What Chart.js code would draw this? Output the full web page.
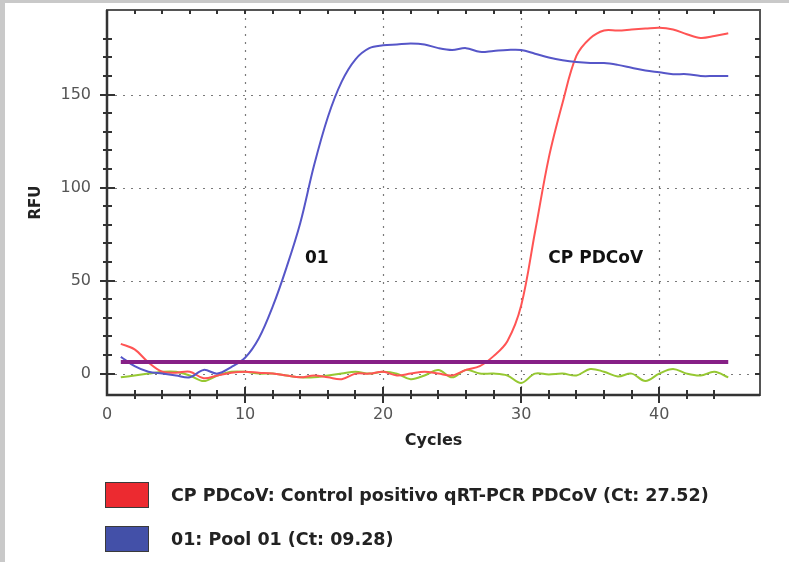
<!DOCTYPE html>
<html>
<head>
<meta charset="utf-8">
<script src="https://cdn.jsdelivr.net/npm/chart.js@4.4.1/dist/chart.umd.min.js"></script>
<style>
  html, body { margin: 0; padding: 0; background: #fff; }
  body { width: 789px; height: 562px; position: relative; overflow: hidden; }
  .edge-top { position: absolute; left: 0; top: 0; width: 789px; height: 3px; background: #c9c9c9; }
  .edge-left { position: absolute; left: 0; top: 0; width: 5px; height: 562px; background: #c9c9c9; }
  #pcrChart { position: absolute; left: 0; top: 0; }
  .legend { position: absolute; left: 105px; top: 481px; font: bold 17.5px "DejaVu Sans", sans-serif; color: #222; }
  .legend .row { display: flex; align-items: center; height: 27px; margin-bottom: 17px; }
  .legend .box { width: 42px; height: 24px; border: 1.5px solid #3a3a3a; margin-right: 22px; }
</style>
</head>
<body>
<div class="edge-top"></div>
<div class="edge-left"></div>
<canvas id="pcrChart" width="789" height="562"></canvas>
<div class="legend" id="legend"></div>
<script>
// amplification curves, RFU per cycle
const cycles = [1, 2, 3, 4, 5, 6, 7, 8, 9, 10, 11, 12, 13, 14, 15, 16, 17, 18, 19, 20,
  21, 22, 23, 24, 25, 26, 27, 28, 29, 30, 31, 32, 33, 34, 35, 36, 37, 38, 39, 40,
  41, 42, 43, 44, 45];
const cpValues = [16, 13, 6, 1, 0.5, 1, -2.5, -1, 0.5, 1, 0.5, 0, -1, -2, -1, -2, -3, 0, 0, 1,
  -1, 0, 1, 0, -1, 2, 4, 9.4, 17.4, 36.6, 76, 116, 145.6, 170.8, 180.3, 184.5, 184.5, 185, 185.5, 186,
  185, 182.5, 180.5, 181.5, 183];
const poolValues = [9, 4, 1, 0, -1, -2, 2, 0, 3.5, 8.5, 19, 36, 57, 81, 112, 138, 157, 169, 175, 176.5,
  177, 177.5, 177, 175, 174, 175, 173, 173.5, 174, 174, 172, 170, 168.5, 167.5, 167, 167, 166, 164.5, 163, 162,
  161, 161, 160, 160, 160];
const negValues = [-2, -1, 0, 1, 1, -1, -4, -1, 1, 1, 0, 0, -1, -2, -2, -1, 0, 1, 0, 1,
  0, -3, -1, 2, -2, 2, 0, 0, -1, -5, 0, -0.5, 0, -1, 2.5, 1, -1.5, 0, -4, 0,
  2.5, 0, -1, 1, -2];
const threshold = 6.3;
const thresholdCycles = [1, 45];

const legendLabels = ['CP PDCoV: Control positivo qRT-PCR PDCoV (Ct: 27.52)', '01: Pool 01 (Ct: 09.28)'];
const legendColors = ['#ec2a30', '#4350a8'];

const curveLabels = ['01', 'CP PDCoV'];
const curveLabelX = [15.2, 35.4];
const curveLabelY = [62, 62];

const FONT = '"DejaVu Sans", sans-serif';
const xMajor = 10, xMinor = 2, yMajor = 50, yMinor = 10;

const toPoints = vals => cycles.map((c, i) => ({ x: c, y: vals[i] }));

// html legend under the plot
const legendEl = document.getElementById('legend');
legendLabels.forEach((txt, i) => {
  const row = document.createElement('div');
  row.className = 'row';
  const box = document.createElement('div');
  box.className = 'box';
  box.style.background = legendColors[i];
  const span = document.createElement('span');
  span.textContent = txt;
  row.appendChild(box);
  row.appendChild(span);
  legendEl.appendChild(row);
});

const isMult = (v, step) => Math.abs(v / step - Math.round(v / step)) < 1e-6;

const gridPlugin = {
  id: 'pcrFrame',
  beforeDatasetsDraw(chart) {
    const { ctx, chartArea: a, scales: { x, y } } = chart;
    ctx.save();
    ctx.strokeStyle = '#7a7a7a';
    ctx.lineWidth = 1.2;
    ctx.setLineDash([2, 6]);
    x.ticks.forEach(t => {
      if (t.value > 0 && isMult(t.value, xMajor)) {
        const px = Math.round(x.getPixelForValue(t.value)) + 0.5;
        ctx.beginPath(); ctx.moveTo(px, a.top); ctx.lineTo(px, a.bottom); ctx.stroke();
      }
    });
    y.ticks.forEach(t => {
      if (isMult(t.value, yMajor)) {
        const py = Math.round(y.getPixelForValue(t.value)) + 0.5;
        ctx.beginPath(); ctx.moveTo(a.left, py); ctx.lineTo(a.right, py); ctx.stroke();
      }
    });
    ctx.restore();
  },
  afterDatasetsDraw(chart) {
    const { ctx, chartArea: a, scales: { x, y } } = chart;
    ctx.save();
    // frame
    ctx.strokeStyle = '#555';
    ctx.lineWidth = 2;
    ctx.strokeRect(a.left, a.top, a.right - a.left, a.bottom - a.top);
    ctx.strokeStyle = '#333';
    ctx.lineWidth = 2.5;
    ctx.beginPath();
    ctx.moveTo(a.left, a.top); ctx.lineTo(a.left, a.bottom); ctx.lineTo(a.right, a.bottom);
    ctx.stroke();
    // tick marks
    ctx.lineWidth = 2;
    x.ticks.forEach(t => {
      if (!isMult(t.value, xMinor) || t.value <= 0) return;
      const px = Math.round(x.getPixelForValue(t.value));
      const major = isMult(t.value, xMajor);
      ctx.beginPath();
      ctx.moveTo(px, a.bottom - (major ? 8 : 5));
      ctx.lineTo(px, a.bottom + (major ? 8 : 4));
      ctx.moveTo(px, a.top);
      ctx.lineTo(px, a.top + 4);
      ctx.stroke();
    });
    y.ticks.forEach(t => {
      if (!isMult(t.value, yMinor)) return;
      const py = Math.round(y.getPixelForValue(t.value));
      const major = isMult(t.value, yMajor);
      ctx.beginPath();
      ctx.moveTo(a.left - (major ? 7 : 4), py);
      ctx.lineTo(a.left + (major ? 8 : 5), py);
      ctx.moveTo(a.right - 5, py);
      ctx.lineTo(a.right, py);
      ctx.stroke();
    });
    // curve names
    ctx.fillStyle = '#111';
    ctx.font = 'bold 17px ' + FONT;
    ctx.textAlign = 'center';
    ctx.textBaseline = 'middle';
    curveLabels.forEach((txt, i) => {
      ctx.fillText(txt, x.getPixelForValue(curveLabelX[i]), y.getPixelForValue(curveLabelY[i]));
    });
    ctx.restore();
  }
};

const ctx = document.getElementById('pcrChart').getContext('2d');

const pcrChart = new Chart(ctx, {
  type: 'line',
  data: {
    datasets: [
      {
        label: 'Threshold',
        data: thresholdCycles.map(c => ({ x: c, y: threshold })),
        borderColor: 'rgb(134,32,134)',
        borderWidth: 4,
        tension: 0,
        order: 0
      },
      {
        label: '01',
        data: toPoints(poolValues),
        borderColor: 'rgb(86,86,200)',
        order: 1
      },
      {
        label: 'CP PDCoV',
        data: toPoints(cpValues),
        borderColor: 'rgb(255,84,84)',
        order: 2
      },
      {
        label: 'Negative',
        data: toPoints(negValues),
        borderColor: 'rgb(150,200,50)',
        order: 3
      }
    ]
  },
  options: {
    responsive: false,
    animation: false,
    layout: { padding: { left: 0, top: 10, right: 29, bottom: 107 } },
    elements: {
      point: { radius: 0 },
      line: { borderWidth: 2, tension: 0.35, fill: false }
    },
    plugins: {
      legend: { display: false },
      tooltip: { enabled: false }
    },
    scales: {
      x: {
        type: 'linear',
        min: 0,
        max: 47.3,
        afterFit: s => { s.height = 60; s.paddingLeft = 0; s.paddingRight = 0; },
        grid: { display: false, drawTicks: false },
        border: { display: false },
        ticks: {
          stepSize: xMinor,
          autoSkip: false,
          maxRotation: 0,
          padding: 10,
          color: '#555',
          font: { family: FONT, size: 16 },
          callback: v => (isMult(v, xMajor) ? v : '')
        },
        title: {
          display: true,
          text: 'Cycles',
          color: '#222',
          font: { family: FONT, size: 16, weight: 'bold' },
          padding: { top: 0, bottom: 5 }
        }
      },
      y: {
        min: -11.5,
        max: 195.5,
        afterFit: s => { s.width = 107; s.paddingTop = 0; s.paddingBottom = 0; },
        grid: { display: false, drawTicks: false },
        border: { display: false },
        ticks: {
          stepSize: yMinor,
          autoSkip: false,
          padding: 16,
          color: '#555',
          font: { family: FONT, size: 16 },
          callback: v => (isMult(v, yMajor) ? v : '')
        },
        title: {
          display: true,
          text: 'RFU',
          color: '#222',
          font: { family: FONT, size: 15, weight: 'bold' },
          padding: { top: 27, bottom: 0 }
        }
      }
    }
  },
  plugins: [gridPlugin]
});
</script>
</body>
</html>
